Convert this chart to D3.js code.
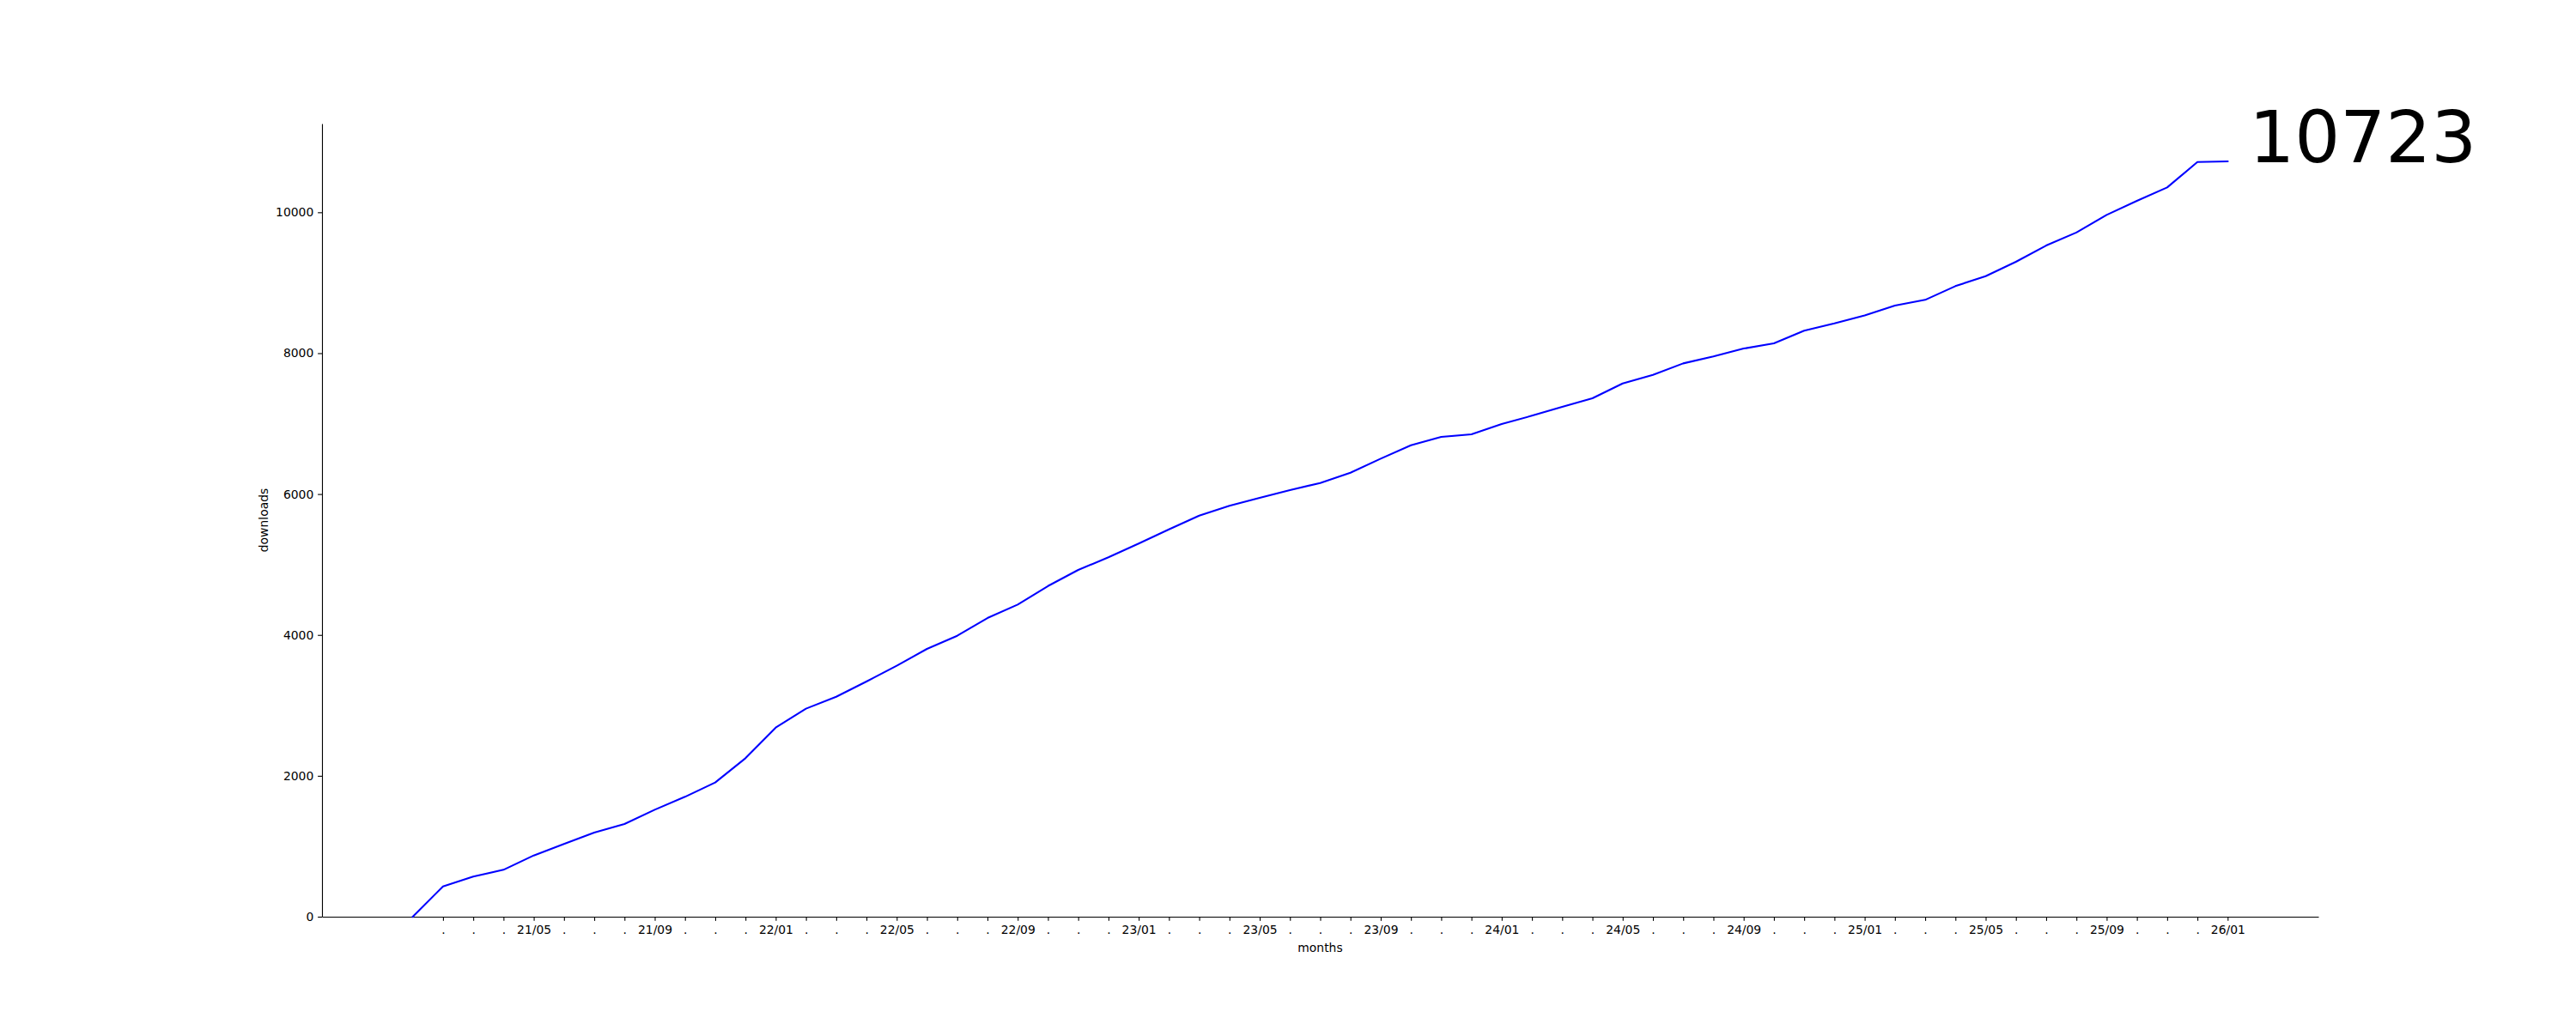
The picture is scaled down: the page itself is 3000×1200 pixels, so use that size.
<!DOCTYPE html>
<html>
<head>
<meta charset="utf-8">
<script src="https://cdn.jsdelivr.net/npm/d3@7"></script>
<style>
    body { margin: 0; background: #fff; }
    svg text { font-family: "DejaVu Sans", sans-serif; fill: #000; }
</style>
</head>
<body>
<svg id="chart"></svg>
<script>
// months on the x axis, "yy/mm"
const months = [
    "21/01", "21/02", "21/03", "21/04", "21/05", "21/06", "21/07", "21/08", "21/09", "21/10", "21/11", "21/12",
    "22/01", "22/02", "22/03", "22/04", "22/05", "22/06", "22/07", "22/08", "22/09", "22/10", "22/11", "22/12",
    "23/01", "23/02", "23/03", "23/04", "23/05", "23/06", "23/07", "23/08", "23/09", "23/10", "23/11", "23/12",
    "24/01", "24/02", "24/03", "24/04", "24/05", "24/06", "24/07", "24/08", "24/09", "24/10", "24/11", "24/12",
    "25/01", "25/02", "25/03", "25/04", "25/05", "25/06", "25/07", "25/08", "25/09", "25/10", "25/11", "25/12",
    "26/01"
];
// cumulative downloads per month
const downloads = [
    0, 430, 569, 666, 869, 1032, 1194, 1316, 1519, 1702, 1905, 2250,
    2684, 2953, 3123, 3339, 3562, 3802, 3988, 4240, 4431, 4694, 4923, 5102,
    5297, 5499, 5694, 5833, 5946, 6056, 6157, 6303, 6503, 6693, 6811, 6848,
    6994, 7112, 7238, 7360, 7570, 7692, 7855, 7953, 8066, 8139, 8320, 8423,
    8537, 8676, 8757, 8952, 9094, 9297, 9528, 9713, 9963, 10162, 10353, 10714,
    10723
];
const yTicks = [0, 2000, 4000, 6000, 8000, 10000];
// only these months get a written label, the rest get a dot
const labelledMonths = ["01", "05", "09"];

const W = 3000, H = 1200;
const margin = {top: 144, right: 300, bottom: 132, left: 375};
const width = W - margin.left - margin.right,
    height = H - margin.top - margin.bottom;

const svg = d3.select("#chart")
    .attr("width", W)
    .attr("height", H);
svg.append("rect").attr("width", W).attr("height", H).attr("fill", "#fff");

const g = svg.append("g")
    .attr("transform", `translate(${margin.left}, ${margin.top})`);

// 5% padding on both ends like matplotlib, y starts at 0
const pad = (months.length - 1) * 0.05;
const x = d3.scaleLinear().domain([-pad, months.length - 1 + pad]).range([0, width]);
const y = d3.scaleLinear().domain([0, d3.max(downloads) * 1.05]).range([height, 0]);

const fontSize = 13.9, tickLen = 4.86, tickPad = 4.86;

// x axis
const xAxis = d3.axisBottom(x)
    .tickValues(d3.range(1, months.length))
    .tickFormat(i => labelledMonths.includes(months[i].slice(3)) ? months[i] : ".")
    .tickSize(tickLen)
    .tickSizeOuter(0)
    .tickPadding(tickPad);
const gx = g.append("g")
    .attr("transform", `translate(0, ${height})`)
    .call(xAxis);

// y axis
const yAxis = d3.axisLeft(y)
    .tickValues(yTicks)
    .tickFormat(d3.format("d"))
    .tickSize(tickLen)
    .tickSizeOuter(0)
    .tickPadding(tickPad);
const gy = g.append("g").call(yAxis);

[gx, gy].forEach(a => {
    a.select(".domain").attr("stroke", "#000").attr("stroke-width", 1.11);
    a.selectAll(".tick line").attr("stroke", "#000").attr("stroke-width", 1.11);
    a.selectAll(".tick text")
        .attr("font-size", fontSize)
        .attr("font-family", "DejaVu Sans")
        .attr("fill", "#000");
});

// the line
const valueline = d3.line()
    .x((d, i) => x(i))
    .y(d => y(d));
g.append("path")
    .datum(downloads)
    .attr("fill", "none")
    .attr("stroke", "#0000ff")
    .attr("stroke-width", 2.08)
    .attr("stroke-linejoin", "round")
    .attr("stroke-linecap", "square")
    .attr("d", valueline);

// axis labels
g.append("text")
    .attr("x", width / 2)
    .attr("y", height + 41)
    .attr("text-anchor", "middle")
    .attr("font-size", fontSize)
    .text("months");
g.append("text")
    .attr("transform", `translate(${-63}, ${height / 2}) rotate(-90)`)
    .attr("text-anchor", "middle")
    .attr("font-size", fontSize)
    .text("downloads");

// total written next to the end of the line
const last = downloads.length - 1;
g.append("text")
    .attr("x", x(last) + 25)
    .attr("y", y(downloads[last]) + 1)
    .attr("font-size", 83.3)
    .text(downloads[last]);
</script>
</body>
</html>
